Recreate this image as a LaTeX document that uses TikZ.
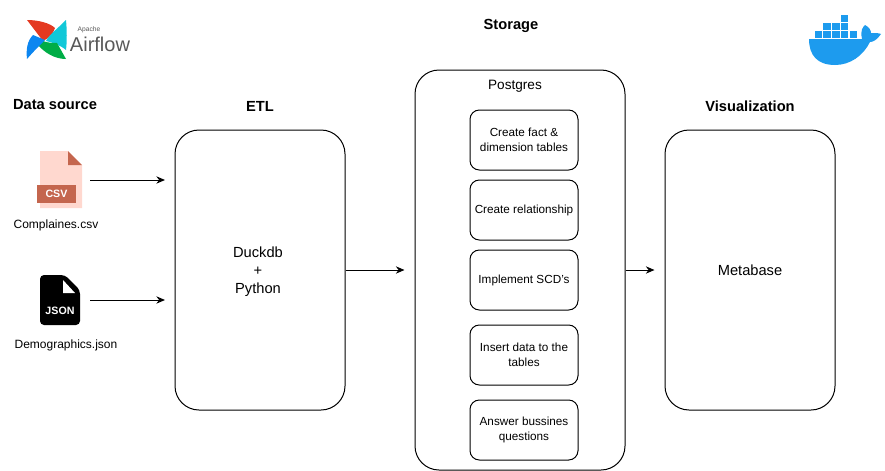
\documentclass[tikz,border=0pt]{standalone}
\usepackage{fontspec}
\setmainfont{Liberation Sans}
\usetikzlibrary{positioning,arrows.meta}

\definecolor{dockerblue}{HTML}{1D9BEE}
\definecolor{csvpage}{HTML}{FFD8CF}
\definecolor{csvband}{HTML}{C4664E}
\definecolor{flowred}{HTML}{E43921}
\definecolor{flowcyan}{HTML}{11C8D8}
\definecolor{flowgreen}{HTML}{00AD46}
\definecolor{flowblue}{HTML}{0C86F0}

\tikzset{
    stage/.style = {draw, rectangle, rounded corners=18pt, line width=0.75pt, minimum width=127.5pt, minimum height=210pt, align=center, font=\fontsize{11}{13.5}\selectfont},
    task/.style = {draw, rectangle, rounded corners=7pt, line width=0.75pt, minimum width=81pt, minimum height=45pt, inner sep=1pt, align=center, font=\fontsize{8.8}{11}\selectfont},
    heading/.style = {font=\fontsize{11}{13}\selectfont\bfseries},
    filename/.style = {font=\fontsize{9}{11}\selectfont},
    flow/.style = {-{Stealth[length=6.5pt,width=5.5pt]}, line width=0.75pt}
}

\begin{document}
\begin{tikzpicture}[x=0.75pt, y=-0.75pt]
\useasboundingbox (0,0) rectangle (885,471);

% headings
\node[heading] (source) at (55,105) {Data source};
\node[heading] (etltitle) at (260,106) {ETL};
\node[heading] (storetitle) at (511,26) {Storage};
\node[heading] (vistitle) at (750,106) {Visualization};

% airflow logo
\fill[flowred] (43,41) -- (27,20) .. controls (38,20) and (50,23) .. (55,28) .. controls (53,34) and (49,38) .. (43,41) -- cycle;
\fill[flowcyan] (66,20) .. controls (67,30) and (67,42) .. (66,50) .. controls (60,45) and (54,43) .. (46,41) .. controls (48,36) and (56,30) .. (66,20) -- cycle;
\fill[flowgreen] (66,59) .. controls (54,59) and (44,52) .. (38,45) -- (43,41) .. controls (48,43) and (53,43) .. (57,43) -- cycle;
\fill[flowblue] (27,59) .. controls (26,50) and (27,41) .. (33,35) -- (45,40) .. controls (40,45) and (33,52) .. (27,59) -- cycle;
\node[inner sep=0pt, text=black!65, font=\fontsize{5}{6}\selectfont] (apache) at (89,30) {Apache};
\node[inner sep=0pt, text=black!65, font=\fontsize{15}{17}\selectfont] (airflow) at (100,44) {Airflow};

% docker logo
\fill[dockerblue] (809,39) -- (862,39) .. controls (860,30) and (863,27) .. (865,25) .. controls (869,27) and (871,30) .. (871,33) .. controls (875,33) and (879,33) .. (881,34) .. controls (877,40) and (873,42) .. (870,42) .. controls (863,56) and (850,65) .. (835,65) .. controls (817,65) and (809,55) .. (809,39) -- cycle;
\foreach \x/\y in {814.5/31, 823/31, 832/31, 840.5/31, 849.5/31, 823/22.5, 832/22.5, 840.5/22.5, 840.5/14.5}
    \fill[dockerblue] (\x,\y) rectangle ++(7.5,7);

% csv file
\fill[csvpage] (40,151) -- (68,151) -- (82,165) -- (82,208) -- (40,208) -- cycle;
\fill[csvband] (68,151) -- (82,165) -- (68,165) -- cycle;
\node[fill=csvband, text=white, minimum width=29pt, minimum height=13.5pt, inner sep=0pt, font=\fontsize{8}{9}\selectfont\bfseries] (csv) at (56.5,194) {CSV};
\node[filename] (csvname) at (56,225) {Complaines.csv};

% json file
\fill[black, rounded corners=3pt] (40,275) -- (65,275) -- (80,290) -- (80,325) -- (40,325) -- cycle;
\fill[white] (63,280) -- (75,293) -- (63,293) -- cycle;
\node[text=white, inner sep=0pt, font=\fontsize{8}{9}\selectfont\bfseries] (json) at (60,311) {JSON};
\node[filename] (jsonname) at (66,345) {Demographics.json};

% stages
\node[stage] (etl) at (260,270) {};
\node[stage, minimum width=157.5pt, minimum height=300pt] (postgres) at (520,270) {};
\node[stage] (metabase) at (750,270) {Metabase};
\node[align=center, font=\fontsize{11}{13.5}\selectfont] (etltext) at (258,272) {Duckdb\\+\\Python};
\node[font=\fontsize{10.2}{12}\selectfont] (pgname) at (515,86) {Postgres};

% postgres tasks
\node[task] (fact) at (524,140) {Create fact \&\\dimension tables};
\node[task] (relation) [below=6.75pt of fact] {Create relationship};
\node[task] (scd) [below=6.75pt of relation] {Implement SCD's};
\node[task] (insert) [below=10.5pt of scd] {Insert data to the\\tables};
\node[task] (answer) [below=10.5pt of insert] {Answer bussines\\questions};

\coordinate (csvout) at (90,180);
\coordinate (csvin) at (165,180);
\coordinate (jsonout) at (90,300);
\coordinate (jsonin) at (165,300);

\draw[flow] (csvout) -- (csvin);
\draw[flow] (jsonout) -- (jsonin);
\draw[flow, shorten >=7.5pt] (etl) -- (postgres);
\draw[flow, shorten >=7.5pt] (postgres) -- (metabase);

\end{tikzpicture}
\end{document}
